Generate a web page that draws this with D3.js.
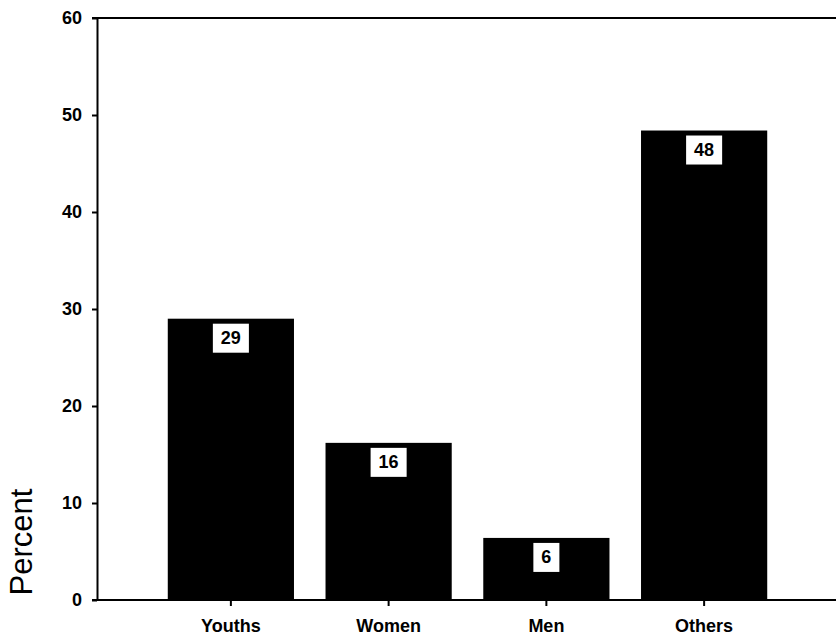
<!DOCTYPE html>
<html>
<head>
<meta charset="utf-8">
<script src="https://cdn.jsdelivr.net/npm/d3@7"></script>
<style>
  html, body { margin: 0; padding: 0; background: #fff; }
  svg { display: block; }
  text { font-family: "Liberation Sans", Arial, Helvetica, sans-serif; fill: #000; }
</style>
</head>
<body>
<svg id="chart" width="836" height="638"></svg>
<script>
const categories = ["Youths", "Women", "Men", "Others"];
const values = [29.0, 16.2, 6.4, 48.4];
const valueLabels = ["29", "16", "6", "48"];
const yTicks = [0, 10, 20, 30, 40, 50, 60];
const yTitle = "Percent";

const svg = d3.select("#chart");
const W = 836, H = 638;
const axisX = 97, yTop = 18, yBottom = 600;

const y = d3.scaleLinear().domain([0, 60]).range([yBottom, yTop]);
const x = d3.scaleBand().domain(categories).range([152, 783]).paddingInner(0.2).paddingOuter(0.1);

// bars
svg.append("g").selectAll("rect").data(categories).join("rect")
  .attr("x", d => x(d))
  .attr("width", x.bandwidth())
  .attr("y", (d, i) => y(values[i]))
  .attr("height", (d, i) => yBottom - y(values[i]))
  .attr("fill", "#000");

// value labels with white boxes
const lab = svg.append("g").selectAll("g").data(categories).join("g");
lab.each(function(d, i) {
  const g = d3.select(this);
  const cx = x(d) + x.bandwidth() / 2;
  const top = y(values[i]) + 5;
  const t = g.append("text")
    .attr("x", cx)
    .attr("y", top + 20)
    .attr("text-anchor", "middle")
    .attr("font-size", 18)
    .attr("font-weight", "bold")
    .text(valueLabels[i]);
  const bw = t.node().getBBox().width + 16;
  g.insert("rect", "text")
    .attr("x", cx - bw / 2)
    .attr("y", top)
    .attr("width", bw)
    .attr("height", 29)
    .attr("fill", "#fff");
});

// top border line
svg.append("line")
  .attr("x1", 92).attr("x2", W)
  .attr("y1", yTop).attr("y2", yTop)
  .attr("stroke", "#000").attr("stroke-width", 2);

// y axis
const yAxis = svg.append("g")
  .attr("transform", `translate(${axisX},0)`)
  .call(d3.axisLeft(y).tickValues(yTicks).tickSize(5).tickSizeOuter(0).tickPadding(10));
yAxis.select(".domain").attr("stroke-width", 2);
yAxis.selectAll(".tick line").attr("stroke-width", 2);
yAxis.selectAll(".tick text")
  .attr("font-size", 18).attr("font-weight", "bold")
  .attr("font-family", '"Liberation Sans", Arial, sans-serif').attr("fill", "#000");

// x axis
const xAxis = svg.append("g")
  .attr("transform", `translate(0,${yBottom})`)
  .call(d3.axisBottom(x).tickSize(6).tickSizeOuter(0).tickPadding(13));
xAxis.select(".domain").remove();
xAxis.selectAll(".tick line").attr("stroke-width", 2);
xAxis.selectAll(".tick text")
  .attr("font-size", 18).attr("font-weight", "bold")
  .attr("font-family", '"Liberation Sans", Arial, sans-serif').attr("fill", "#000");
svg.append("line")
  .attr("x1", 92).attr("x2", W)
  .attr("y1", yBottom).attr("y2", yBottom)
  .attr("stroke", "#000").attr("stroke-width", 2);

// y title
svg.append("text")
  .attr("transform", "translate(32,542) rotate(-90)")
  .attr("text-anchor", "middle")
  .attr("font-size", 31)
  .text(yTitle);
</script>
</body>
</html>
